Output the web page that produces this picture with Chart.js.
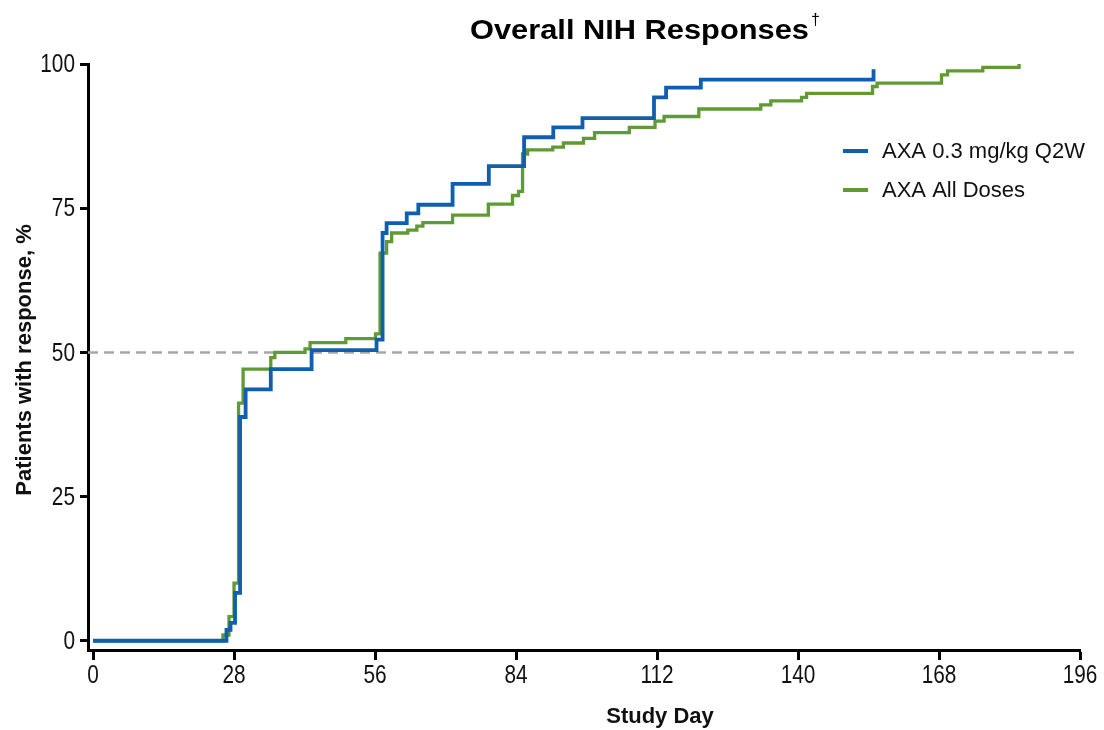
<!DOCTYPE html>
<html>
<head>
<meta charset="utf-8">
<title>Overall NIH Responses</title>
<script src="https://cdn.jsdelivr.net/npm/chart.js@4.4.1/dist/chart.umd.min.js"></script>
<style>
  html, body { margin: 0; padding: 0; background: #fff; }
  #wrap { width: 1104px; height: 730px; }
</style>
</head>
<body>
<div id="wrap"><canvas id="chart" width="1104" height="730"></canvas></div>
<script>
// cumulative response curves (study day, % responders)
const lowDoseDays = [0, 26.5, 27.3, 28.2, 29.2, 30.3, 35.3, 43.4, 56.3, 57.5, 58.3, 62.3, 64.6, 71.4, 78.6, 85.6, 91.4, 97.2, 111.4, 113.8, 120.7, 155];
const lowDosePct  = [0, 1.9, 3.1, 8.3, 38.8, 43.6, 47.1, 50.4, 52.2, 70.7, 72.4, 74.1, 75.6, 79.2, 82.3, 87.3, 89.0, 90.6, 94.2, 95.9, 97.3, 99.1];

const allDoseDays = [0, 25.8, 27, 28, 28.9, 29.8, 35.3, 36.1, 42.1, 43.1, 50.2, 56.1, 57, 58.3, 59.3, 62.5, 64.3, 65.5, 71.4, 78.5, 83.3, 84.5, 85.3, 86.3, 91.3, 93.4, 97.4, 99.6, 106.5, 111.6, 113.4, 120.3, 132.6, 134.6, 140.7, 141.7, 154.8, 155.7, 168.5, 169.7, 176.7, 183.9];
const allDosePct  = [0, 1.0, 4.2, 10.0, 41.2, 47.1, 49.1, 50.0, 50.6, 51.7, 52.4, 53.2, 67.2, 69.2, 70.7, 71.2, 71.9, 72.5, 73.8, 75.7, 77.2, 77.9, 84.4, 85.1, 85.6, 86.3, 87.1, 88.1, 89.0, 90.1, 90.9, 92.2, 92.9, 93.6, 94.2, 94.9, 96.1, 96.7, 98.1, 98.8, 99.4, 100];

const seriesNames = ['AXA 0.3 mg/kg Q2W', 'AXA All Doses'];
const seriesColors = ['#0f5fae', '#5f9a33'];
const xTicks = [0, 28, 56, 84, 112, 140, 168, 196];
const yTicks = [0, 25, 50, 75, 100];
const medianLine = 50;

const sans = '"Liberation Sans", Arial, Helvetica, sans-serif';

const toPoints = (xs, ys) => xs.map((x, i) => ({ x: x, y: ys[i] }));

// draw text stretched/squeezed horizontally
function drawScaled(ctx, text, x, y, align, sx) {
  ctx.save();
  ctx.translate(x, y);
  ctx.scale(sx, 1);
  ctx.textAlign = align;
  ctx.fillText(text, 0, 0);
  ctx.restore();
}

// title, legend, tick labels and axis captions
const annotations = {
  id: 'annotations',
  afterDraw(chart) {
    const ctx = chart.ctx;
    const xs = chart.scales.x;
    const ys = chart.scales.y;
    ctx.save();

    ctx.fillStyle = '#000';
    ctx.font = 'bold 28px ' + sans;
    ctx.textBaseline = 'alphabetic';
    const title = 'Overall NIH Responses';
    const stretch = 1.1;
    drawScaled(ctx, title, 470, 39, 'left', stretch);
    const tw = ctx.measureText(title).width * stretch;
    ctx.font = '16px ' + sans;
    ctx.textAlign = 'left';
    ctx.fillText('\u2020', 470 + tw + 2, 25);

    // tick labels
    ctx.fillStyle = '#111';
    ctx.font = '26px ' + sans;
    ctx.textBaseline = 'middle';
    yTicks.forEach(v => drawScaled(ctx, String(v), 75, ys.getPixelForValue(v) + 1, 'right', 0.8));
    xTicks.forEach(v => drawScaled(ctx, String(v), xs.getPixelForValue(v), 676, 'center', 0.8));

    // legend
    seriesNames.forEach((name, i) => {
      const y = 151 + i * 39;
      ctx.strokeStyle = seriesColors[i];
      ctx.lineWidth = 4;
      ctx.beginPath();
      ctx.moveTo(843, y);
      ctx.lineTo(868, y);
      ctx.stroke();
      ctx.font = '22px ' + sans;
      ctx.textAlign = 'left';
      ctx.textBaseline = 'middle';
      ctx.fillStyle = '#111';
      ctx.fillText(name, 882, y + 1);
    });

    // axis captions
    ctx.fillStyle = '#111';
    ctx.font = 'bold 22px ' + sans;
    ctx.textAlign = 'center';
    ctx.textBaseline = 'middle';
    ctx.fillText('Study Day', 660, 717);

    ctx.translate(25, 360);
    ctx.rotate(-Math.PI / 2);
    ctx.fillText('Patients with response, %', 0, 0);
    ctx.restore();
  }
};

new Chart(document.getElementById('chart'), {
  type: 'line',
  data: {
    datasets: [
      {
        label: seriesNames[0],
        data: toPoints(lowDoseDays, lowDosePct),
        borderColor: seriesColors[0],
        borderWidth: 3.8,
        stepped: 'before',
        pointRadius: 0,
        order: 0
      },
      {
        label: seriesNames[1],
        data: toPoints(allDoseDays, allDosePct),
        borderColor: seriesColors[1],
        borderWidth: 3.3,
        stepped: 'before',
        pointRadius: 0,
        order: 1
      },
      {
        label: 'median',
        data: [{ x: -1, y: medianLine }, { x: 196, y: medianLine }],
        borderColor: '#a6a6a6',
        borderWidth: 2.5,
        borderDash: [10, 6],
        pointRadius: 0,
        order: 2
      }
    ]
  },
  options: {
    responsive: false,
    animation: false,
    layout: { padding: { top: 64, right: 24, left: 0, bottom: 0 } },
    plugins: {
      legend: { display: false },
      tooltip: { enabled: false },
      title: { display: false }
    },
    scales: {
      x: {
        type: 'linear',
        min: -1,
        max: 196,
        afterBuildTicks: sc => { sc.ticks = xTicks.map(v => ({ value: v })); },
        afterFit: sc => { sc.height = 80; },
        ticks: { display: false },
        grid: { display: true, drawOnChartArea: false, drawTicks: true, tickLength: 10, tickWidth: 3, tickColor: '#000' },
        border: { display: true, color: '#000', width: 3 }
      },
      y: {
        type: 'linear',
        min: -1.6,
        max: 100,
        afterBuildTicks: sc => { sc.ticks = yTicks.map(v => ({ value: v })); },
        afterFit: sc => { sc.width = 88; },
        ticks: { display: false },
        grid: { display: true, drawOnChartArea: false, drawTicks: true, tickLength: 8, tickWidth: 3, tickColor: '#000' },
        border: { display: true, color: '#000', width: 3 }
      }
    }
  },
  plugins: [annotations]
});
</script>
</body>
</html>
